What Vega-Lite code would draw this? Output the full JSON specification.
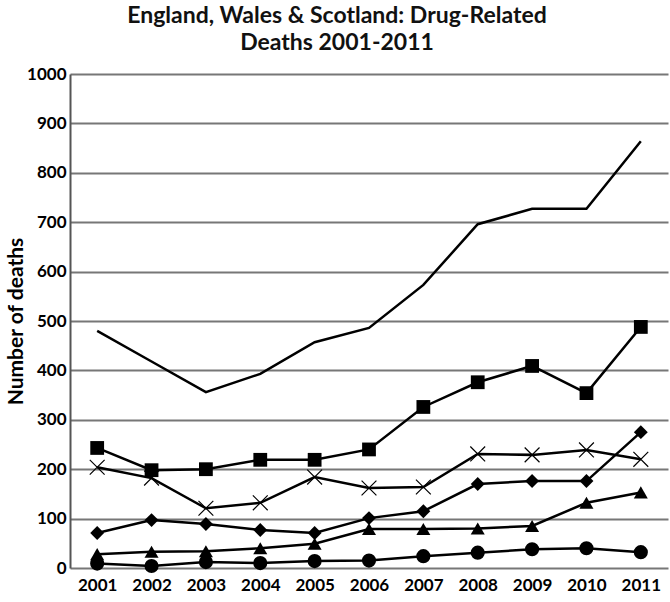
{
  "$schema": "https://vega.github.io/schema/vega-lite/v6.json",
  "width": 598,
  "height": 494,
  "autosize": {"type": "none"},
  "padding": {"left": 70, "top": 74, "right": 2, "bottom": 34},
  "background": "white",
  "config": {
    "font": "Lato",
    "view": {"stroke": null},
    "axis": {"labelFont": "Lato", "titleFont": "Lato"}
  },
  "title": {
    "text": ["England, Wales & Scotland: Drug-Related", "Deaths 2001-2011"],
    "font": "Lato",
    "fontSize": 23,
    "fontWeight": "bold",
    "color": "#111",
    "anchor": "middle",
    "dx": -32,
    "offset": 10,
    "lineHeight": 27
  },
  "data": {
    "values": [
      {"year": "2001", "series": "total", "value": 480},
      {"year": "2002", "series": "total", "value": 418},
      {"year": "2003", "series": "total", "value": 356},
      {"year": "2004", "series": "total", "value": 393},
      {"year": "2005", "series": "total", "value": 457},
      {"year": "2006", "series": "total", "value": 486},
      {"year": "2007", "series": "total", "value": 573},
      {"year": "2008", "series": "total", "value": 696},
      {"year": "2009", "series": "total", "value": 727},
      {"year": "2010", "series": "total", "value": 727},
      {"year": "2011", "series": "total", "value": 864},
      {"year": "2001", "series": "square", "value": 243},
      {"year": "2002", "series": "square", "value": 198},
      {"year": "2003", "series": "square", "value": 200},
      {"year": "2004", "series": "square", "value": 219},
      {"year": "2005", "series": "square", "value": 219},
      {"year": "2006", "series": "square", "value": 240},
      {"year": "2007", "series": "square", "value": 326},
      {"year": "2008", "series": "square", "value": 376},
      {"year": "2009", "series": "square", "value": 409},
      {"year": "2010", "series": "square", "value": 354},
      {"year": "2011", "series": "square", "value": 488},
      {"year": "2001", "series": "cross", "value": 204},
      {"year": "2002", "series": "cross", "value": 182},
      {"year": "2003", "series": "cross", "value": 121},
      {"year": "2004", "series": "cross", "value": 132},
      {"year": "2005", "series": "cross", "value": 184},
      {"year": "2006", "series": "cross", "value": 162},
      {"year": "2007", "series": "cross", "value": 164},
      {"year": "2008", "series": "cross", "value": 231},
      {"year": "2009", "series": "cross", "value": 229},
      {"year": "2010", "series": "cross", "value": 239},
      {"year": "2011", "series": "cross", "value": 220},
      {"year": "2001", "series": "diamond", "value": 71},
      {"year": "2002", "series": "diamond", "value": 97},
      {"year": "2003", "series": "diamond", "value": 89},
      {"year": "2004", "series": "diamond", "value": 77},
      {"year": "2005", "series": "diamond", "value": 71},
      {"year": "2006", "series": "diamond", "value": 101},
      {"year": "2007", "series": "diamond", "value": 115},
      {"year": "2008", "series": "diamond", "value": 170},
      {"year": "2009", "series": "diamond", "value": 176},
      {"year": "2010", "series": "diamond", "value": 176},
      {"year": "2011", "series": "diamond", "value": 275},
      {"year": "2001", "series": "triangle", "value": 28},
      {"year": "2002", "series": "triangle", "value": 33},
      {"year": "2003", "series": "triangle", "value": 34},
      {"year": "2004", "series": "triangle", "value": 40},
      {"year": "2005", "series": "triangle", "value": 49},
      {"year": "2006", "series": "triangle", "value": 79},
      {"year": "2007", "series": "triangle", "value": 79},
      {"year": "2008", "series": "triangle", "value": 80},
      {"year": "2009", "series": "triangle", "value": 85},
      {"year": "2010", "series": "triangle", "value": 132},
      {"year": "2011", "series": "triangle", "value": 153},
      {"year": "2001", "series": "circle", "value": 9},
      {"year": "2002", "series": "circle", "value": 4},
      {"year": "2003", "series": "circle", "value": 12},
      {"year": "2004", "series": "circle", "value": 10},
      {"year": "2005", "series": "circle", "value": 14},
      {"year": "2006", "series": "circle", "value": 15},
      {"year": "2007", "series": "circle", "value": 24},
      {"year": "2008", "series": "circle", "value": 31},
      {"year": "2009", "series": "circle", "value": 38},
      {"year": "2010", "series": "circle", "value": 40},
      {"year": "2011", "series": "circle", "value": 32}
    ]
  },
  "encoding": {
    "x": {
      "field": "year",
      "type": "ordinal",
      "scale": {"type": "point", "padding": 0.5},
      "axis": {
        "title": null,
        "labelAngle": 0,
        "labelFontSize": 17,
        "labelFontWeight": "bold",
        "labelColor": "#000",
        "ticks": false,
        "domain": false,
        "grid": false,
        "labelPadding": 9
      }
    },
    "y": {
      "field": "value",
      "type": "quantitative",
      "scale": {"domain": [0, 1000], "nice": false},
      "axis": {
        "title": "Number of deaths",
        "titleFontSize": 21,
        "titleFontWeight": "bold",
        "titleColor": "#000",
        "titlePadding": 0,
        "format": "d",
        "values": [0, 100, 200, 300, 400, 500, 600, 700, 800, 900, 1000],
        "labelFontSize": 17,
        "labelFontWeight": "bold",
        "labelColor": "#000",
        "labelPadding": 4,
        "ticks": false,
        "domain": true,
        "domainColor": "#555",
        "domainWidth": 2,
        "grid": true,
        "gridColor": "#777",
        "gridWidth": 2,
        "gridOpacity": 1
      }
    }
  },
  "layer": [
    {
      "mark": {"type": "line", "color": "#000", "strokeWidth": 2.5},
      "encoding": {"detail": {"field": "series", "type": "nominal"}}
    },
    {
      "transform": [{"filter": "datum.series != 'total' && datum.series != 'cross'"}],
      "mark": {"type": "point", "filled": true, "color": "#000", "opacity": 1},
      "encoding": {
        "shape": {
          "field": "series",
          "type": "nominal",
          "scale": {"domain": ["square", "diamond", "triangle", "circle"], "range": ["square", "diamond", "triangle-up", "circle"]},
          "legend": null
        },
        "size": {
          "field": "series",
          "type": "nominal",
          "scale": {"domain": ["square", "diamond", "triangle", "circle"], "range": [190, 200, 160, 180]},
          "legend": null
        }
      }
    },
    {
      "transform": [{"filter": "datum.series == 'cross'"}],
      "mark": {
        "type": "point",
        "shape": "M-1,-1L1,1M-1,1L1,-1",
        "filled": false,
        "stroke": "#000",
        "strokeWidth": 1.2,
        "size": 220,
        "opacity": 1
      }
    }
  ]
}
